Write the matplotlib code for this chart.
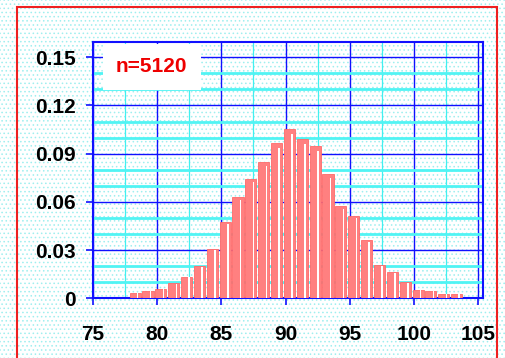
import numpy as np
import matplotlib
matplotlib.use("Agg")
import matplotlib.pyplot as plt
from matplotlib.patches import Rectangle
from matplotlib.ticker import MultipleLocator, FixedLocator

# histogram of scores, bins of width 1
bins = np.arange(78, 104)
freq = [0.0035, 0.0044, 0.0060, 0.0093, 0.0134, 0.0199, 0.0309, 0.0477,
        0.0632, 0.0744, 0.0850, 0.0965, 0.1052, 0.0989, 0.0948, 0.0774,
        0.0574, 0.0512, 0.0363, 0.0205, 0.0162, 0.0101, 0.0052, 0.0044,
        0.0027, 0.0027]
x_ticks = [75, 80, 85, 90, 95, 100, 105]
y_ticks = [0, 0.03, 0.06, 0.09, 0.12, 0.15]
y_labels = ["0", "0.03", "0.06", "0.09", "0.12", "0.15"]
label = "n=5120"

plt.rcParams["font.family"] = ["Liberation Sans", "DejaVu Sans"]
plt.rcParams["hatch.linewidth"] = 0.6

fig = plt.figure(figsize=(5.05, 3.58), dpi=100)
fig.patch.set_facecolor("white")
# dotted cyan background over the whole figure
fig.patches.append(Rectangle((0, 0), 1, 1, transform=fig.transFigure,
                             facecolor="white", edgecolor="#9fefef",
                             hatch="....", linewidth=0, zorder=-10))
# red frame
fig.patches.append(Rectangle((17 / 505, -0.05), 480 / 505, 1.05 - 7 / 358,
                             transform=fig.transFigure, fill=False,
                             edgecolor="#ee2020", linewidth=1.5, zorder=10))

ax = fig.add_axes([0.1836, 0.1668, 0.7738, 0.7159])
ax.patch.set_facecolor("white")
ax.patch.set_edgecolor("#9fefef")
ax.patch.set_hatch("....")

ax.set_xlim(75, 105.39)
ax.set_ylim(0, 0.1595)

# grid
ax.xaxis.set_major_locator(FixedLocator(x_ticks))
ax.xaxis.set_minor_locator(MultipleLocator(2.5))
ax.yaxis.set_major_locator(FixedLocator(y_ticks))
ax.yaxis.set_minor_locator(MultipleLocator(0.01))
ax.grid(which="minor", axis="x", color="#40f0f0", linewidth=0.9, zorder=0)
ax.grid(which="minor", axis="y", color="#50f4f4", linewidth=2.0, zorder=0)
ax.grid(which="major", color="#1010ff", linewidth=1.0, zorder=0)
ax.set_axisbelow(True)

ax.set_yticklabels(y_labels)
ax.tick_params(which="major", direction="out", length=5, width=1.2, color="#1010ff",
               labelsize=15)
ax.tick_params(which="minor", length=0)
ax.tick_params(axis="y", pad=7)
ax.tick_params(axis="x", pad=14)
for t in ax.get_xticklabels() + ax.get_yticklabels():
    t.set_fontweight("bold")

for s in ax.spines.values():
    s.set_color("#1010ff")
    s.set_linewidth(1.5)

# bars
pos = bins + 0.3
ax.bar(pos, freq, width=0.86, color="#ff8080", edgecolor="#ff6a6a",
       linewidth=0.6, zorder=3)
ax.bar(pos + 0.2, np.array(freq) * 0.97, width=0.12, color="white",
       linewidth=0, zorder=4)

ax.text(79.6, 0.1442, label, color="#ee0000", fontsize=15, fontweight="bold",
        ha="center", va="center", zorder=5,
        bbox=dict(boxstyle="square,pad=0.65", facecolor="white", edgecolor="none"))

fig.savefig("out.png", dpi=100)
